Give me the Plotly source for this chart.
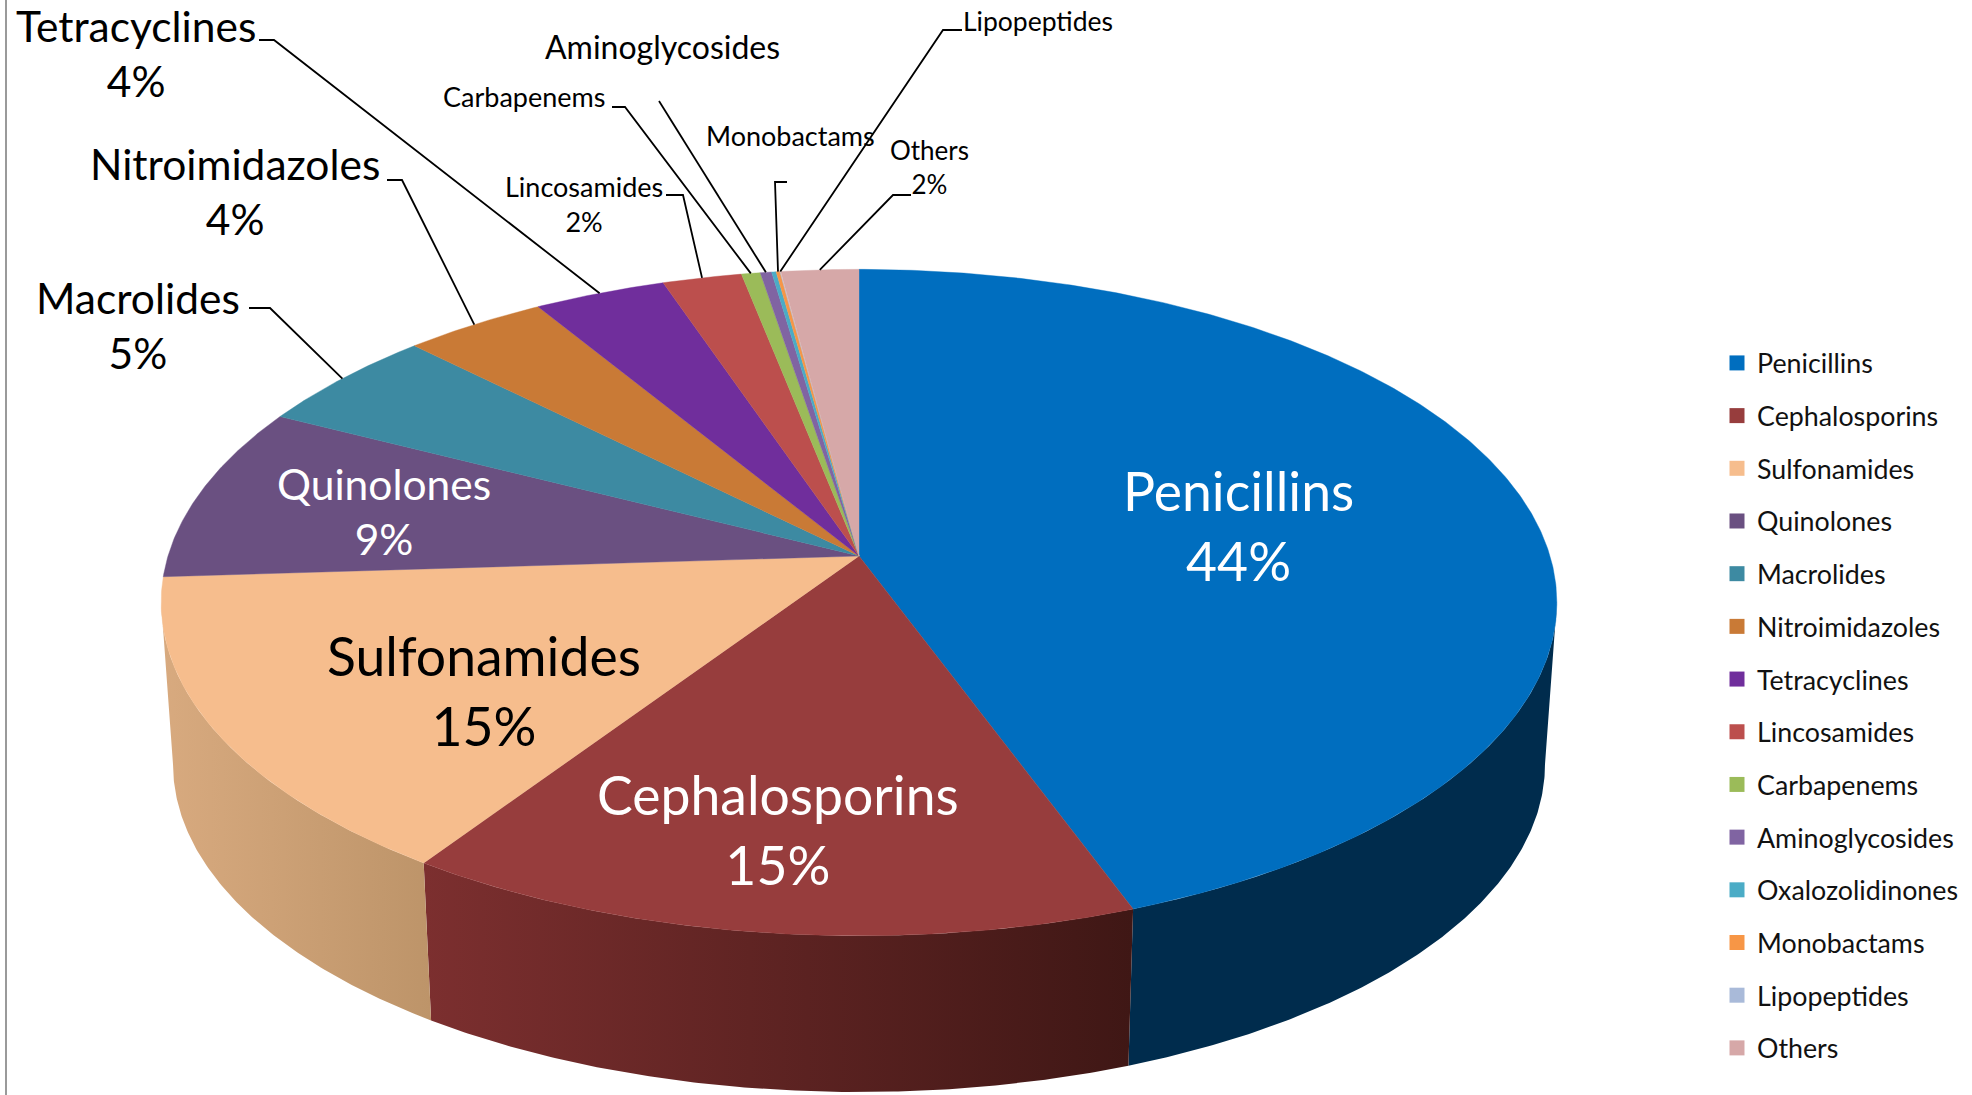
import numpy as np
import plotly.graph_objects as go

# ---------- data ----------
classes = ["Penicillins", "Cephalosporins", "Sulfonamides", "Quinolones", "Macrolides",
           "Nitroimidazoles", "Tetracyclines", "Lincosamides", "Carbapenems",
           "Aminoglycosides", "Oxalozolidinones", "Monobactams", "Lipopeptides", "Others"]
shares = [44.4, 15.0, 14.6, 8.5, 5.0, 3.8, 3.5, 2.1, 0.5, 0.3, 0.12, 0.1, 0.02, 2.06]
share_labels = ["44%", "15%", "15%", "9%", "5%", "4%", "4%", "2%", "", "", "", "", "", "2%"]
colors = ["#006EBF", "#973D3D", "#F6BD8D", "#6A5081", "#3D8AA2", "#C97A36", "#702E9C",
          "#BC4F4D", "#9BBB59", "#8064A2", "#4BACC6", "#F79646", "#A9BAD9", "#D6A8A8"]
wall_gradients = {
    "Penicillins": ("#002C4D", "#002C4D"),
    "Cephalosporins": ("#7C2F2F", "#3F1715"),
    "Sulfonamides": ("#D8AA7F", "#BD9469"),
}

# ---------- projection of the tilted disc ----------
CX, APEX_Y, RX, RY, PERSP = 859.0, 556.0, 691.0, 326.7, 0.1397
LOWER_SCALE, LOWER_APEX_Y = 0.983, 718.7
WIDEST = np.arccos(-PERSP)  # angle of the disc's rightmost projected point


def project(theta, scale=1.0, apex=APEX_Y):
    u, v = np.sin(theta), np.cos(theta)
    den = 1 + PERSP * v
    return CX + RX * scale * u / den, apex - RY * scale * v / den


total = sum(shares)
edges = np.concatenate([[0], np.cumsum(shares)]) / total * 2 * np.pi
fig = go.Figure()

# side wall: only the part between the two silhouette tangents faces the viewer
for i, name in enumerate(classes):
    if name not in wall_gradients:
        continue
    t = np.linspace(max(edges[i], WIDEST), min(edges[i + 1], 2 * np.pi - WIDEST), 160)
    xt, yt = project(t)
    xb, yb = project(t[::-1], LOWER_SCALE, LOWER_APEX_Y)
    c0, c1 = wall_gradients[name]
    fig.add_trace(go.Scatter(
        x=np.concatenate([xt, xb]), y=np.concatenate([yt, yb]), mode="lines", fill="toself",
        line=dict(width=0), fillgradient=dict(type="horizontal", colorscale=[[0, c0], [1, c1]]),
        hoverinfo="skip", showlegend=False))

# top face
for i, name in enumerate(classes):
    t = np.linspace(edges[i], edges[i + 1], max(4, int(shares[i] * 8)))
    xr, yr = project(t)
    fig.add_trace(go.Scatter(
        x=np.concatenate([[CX], xr, [CX]]), y=np.concatenate([[APEX_Y], yr, [APEX_Y]]),
        mode="lines", fill="toself", fillcolor=colors[i],
        line=dict(width=0.4, color=colors[i]), name=name, text=name, hoverinfo="text",
        showlegend=False))

# legend swatches
for i, name in enumerate(classes):
    fig.add_trace(go.Scatter(
        x=[None], y=[None], mode="markers", name=name, legendgroup=name,
        marker=dict(symbol="square", size=15, color=colors[i])))

# leader lines: label-side points, rim end comes from the slice midpoint
leader_points = {
    "Tetracyclines": [(259, 40), (274, 40)],
    "Nitroimidazoles": [(387, 180), (402, 180)],
    "Macrolides": [(249, 308), (270, 308)],
    "Lincosamides": [(666, 195), (683, 195)],
    "Carbapenems": [(612, 107), (625, 107)],
    "Aminoglycosides": [(659, 101)],
    "Monobactams": [(787, 182), (775, 182)],
    "Lipopeptides": [(962, 30), (943, 30)],
    "Others": [(911, 195), (893, 195)],
}
for name, pts in leader_points.items():
    i = classes.index(name)
    rx, ry = project(np.array([(edges[i] + edges[i + 1]) / 2]))
    xs = [p[0] for p in pts] + [float(rx[0])]
    ys = [p[1] for p in pts] + [float(ry[0])]
    fig.add_trace(go.Scatter(x=xs, y=ys, mode="lines", line=dict(color="black", width=1.8),
                             hoverinfo="skip", showlegend=False))

# data labels: (x, y, font size, colour)
label_layout = {
    "Penicillins": (1238, 525, 53.5, "white"),
    "Cephalosporins": (778, 829, 53.5, "white"),
    "Sulfonamides": (484, 690, 53.5, "black"),
    "Quinolones": (384, 511, 42.5, "white"),
    "Macrolides": (138, 324.5, 42.5, "black"),
    "Nitroimidazoles": (235, 191, 42.5, "black"),
    "Tetracyclines": (136, 53, 42.5, "black"),
    "Aminoglycosides": (662, 46, 32, "black"),
    "Carbapenems": (524, 96, 27, "black"),
    "Lincosamides": (584, 204, 27, "black"),
    "Monobactams": (790, 135, 27, "black"),
    "Lipopeptides": (1038, 21, 26.5, "black"),
    "Others": (929, 167, 26, "black"),
}
FONT = "Lato, 'Open Sans', sans-serif"
annotations = []
for name, (lx, ly, size, col) in label_layout.items():
    pct = share_labels[classes.index(name)]
    annotations.append(dict(
        x=lx, y=ly, xref="x", yref="y", showarrow=False, xanchor="center", yanchor="middle",
        align="center", text=f"{name}<br>{pct}" if pct else name,
        font=dict(family=FONT, size=size, color=col)))

fig.update_layout(
    width=1972, height=1095, margin=dict(l=0, r=0, t=0, b=0),
    paper_bgcolor="white", plot_bgcolor="white",
    xaxis=dict(range=[0, 1972], visible=False, fixedrange=True),
    yaxis=dict(range=[1095, 0], visible=False, fixedrange=True),
    annotations=annotations,
    shapes=[dict(type="line", xref="x", yref="y", x0=6, x1=6, y0=0, y1=1095,
                 line=dict(color="#9A9A9A", width=2))],
    legend=dict(x=1717 / 1972, y=1 - 339 / 1095, xanchor="left", yanchor="top",
                font=dict(family=FONT, size=26.8, color="#111111"),
                traceorder="grouped", tracegroupgap=14.85, itemwidth=30,
                bgcolor="rgba(0,0,0,0)"),
)

fig.write_html("out.html", config={"displayModeBar": False},
               post_script="document.body.style.margin='0';document.body.style.overflow='hidden';")
